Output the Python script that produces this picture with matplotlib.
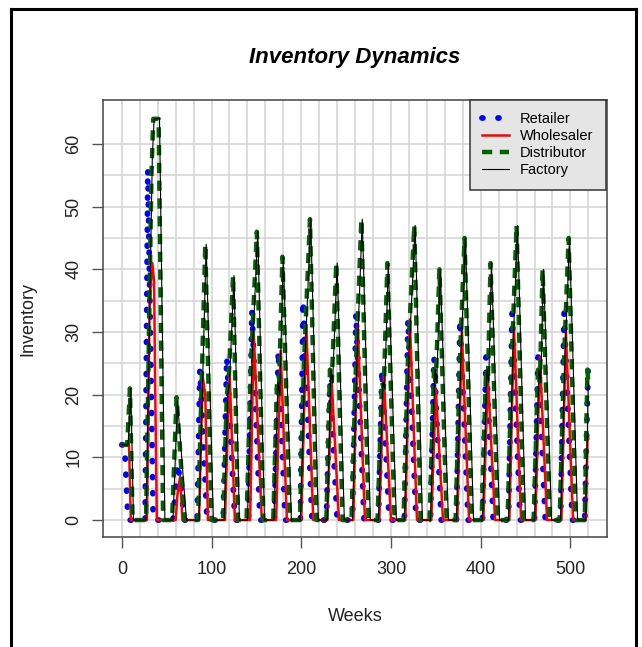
import matplotlib.pyplot as plt
from matplotlib.lines import Line2D
import numpy as np

# weekly inventory, vertices
retailer_weeks = [0, 3, 7, 26, 29, 35, 57, 62.5, 70, 84, 87, 95, 113, 117, 126,
                  141, 145, 154, 170, 174.5, 182, 199, 202, 212, 228, 232, 240,
                  257, 261, 270, 286, 290, 298, 315, 319, 328, 344, 348, 356,
                  373, 377, 386, 402, 406, 414, 431, 435, 444, 460, 464, 472,
                  489, 493, 502, 516, 520]
retailer_inv = [12, 12, 0, 0, 56, 0, 0, 9, 0, 0, 24, 0, 0, 26, 0,
                0, 33.5, 0, 0, 27, 0, 0, 35, 0, 0, 22, 0,
                0, 33, 0, 0, 24, 0, 0, 32, 0, 0, 26, 0,
                0, 32, 0, 0, 26, 0, 0, 33, 0, 0, 26, 0,
                0, 33, 0, 0, 26]

wholesaler_weeks = [0, 8, 10, 28, 31, 34, 36, 37, 39, 60, 62, 65, 67.5,
                    86, 90, 93, 96, 115, 120, 126, 143, 147, 156, 172, 177, 184,
                    200, 205.6, 213.4, 229, 234, 242, 258, 263, 271, 287, 292, 300,
                    316, 321, 329, 345, 350, 358, 374, 379, 387, 403, 408, 416,
                    432, 437, 445, 461, 466, 474, 490, 495, 503, 517, 519, 520]
wholesaler_inv = [12, 12, 0, 0, 35, 41, 38, 23, 0, 0, 4, 7, 0,
                  0, 23, 20, 0, 0, 24, 0, 0, 30, 0, 0, 27, 0,
                  0, 31, 0, 0, 22, 0, 0, 31, 0, 0, 23, 0,
                  0, 32, 0, 0, 21, 0, 0, 30, 0, 0, 23, 0,
                  0, 31, 0, 0, 26, 0, 0, 30, 0, 0, 13, 13]

distributor_weeks = [0, 6, 9, 12, 27, 33, 35, 41, 46, 56, 61, 70,
                     85, 89, 93, 100, 113, 117, 119, 124, 129.5, 139, 144, 150.5, 157.7,
                     168.8, 173, 175, 179, 187.4, 198.5, 203, 209.7, 217,
                     228, 232, 234, 239, 246, 256, 261, 267, 275,
                     285, 290, 292, 296, 304, 314, 319, 326, 333,
                     343, 348, 350, 354, 362, 372, 377, 382, 390,
                     401, 406, 408, 411, 419, 430, 435, 440, 448,
                     459, 464, 466, 469, 477, 488, 493, 498, 506, 516, 519, 520]
distributor_inv = [12, 12, 21, 0, 0, 55, 64, 64, 0, 0, 19.6, 0,
                   0, 22, 44, 0, 0, 20, 22, 39, 0, 0, 25, 46, 0,
                   0, 22, 20, 42, 0, 0, 25, 48, 0,
                   0, 24, 22, 41, 0, 0, 25, 48, 0,
                   0, 22, 21, 41, 0, 0, 26, 47, 0,
                   0, 24, 22, 40, 0, 0, 26, 45, 0,
                   0, 24, 22, 41, 0, 0, 27, 47, 0,
                   0, 24, 22, 40, 0, 0, 26, 45, 0, 0, 24, 22]

factory_weeks = [0, 7, 10, 13, 27, 34, 36, 42, 48, 57, 62, 72,
                 86, 90, 94, 102, 114, 118, 120, 125, 131, 140, 145, 151.5, 159,
                 169.5, 174, 176, 180, 189, 199, 204, 210.5, 219,
                 229, 233, 235, 240, 248, 257, 262, 268, 277,
                 286, 291, 293, 297, 306, 315, 320, 327, 335,
                 344, 349, 351, 355, 364, 373, 378, 383, 392,
                 402, 407, 409, 412, 421, 431, 436, 441, 450,
                 460, 465, 467, 470, 479, 489, 494, 499, 508, 517, 520]
factory_inv = [12, 12, 21, 0, 0, 58, 64, 64, 0, 0, 19, 0,
               0, 22, 44, 0, 0, 20, 22, 39, 0, 0, 25, 46, 0,
               0, 22, 20, 42, 0, 0, 25, 48, 0,
               0, 24, 22, 41, 0, 0, 25, 48, 0,
               0, 22, 21, 41, 0, 0, 26, 47, 0,
               0, 24, 22, 40, 0, 0, 26, 45, 0,
               0, 24, 22, 41, 0, 0, 27, 47, 0,
               0, 24, 22, 40, 0, 0, 26, 45, 0, 0, 22]

plt.rcParams['font.family'] = ['Liberation Sans', 'DejaVu Sans']

fig = plt.figure(figsize=(6.42, 6.47), dpi=100)
ax = fig.add_axes([103 / 642, 110 / 647, 504 / 642, 437 / 647])

ax.plot(retailer_weeks, retailer_inv, color='blue', lw=4.2,
        linestyle=(0, (0.15, 2.6)), dash_capstyle='round', label='Retailer')
ax.plot(wholesaler_weeks, wholesaler_inv, color='red', lw=1.8, label='Wholesaler')
ax.plot(distributor_weeks, distributor_inv, color='#006400', lw=3.2,
        linestyle=(0, (2.3, 1.7)), dash_capstyle='butt', label='Distributor')
ax.plot(factory_weeks, factory_inv, color='black', lw=0.8, label='Factory')

ax.set_xlim(-21, 540.8)
ax.set_ylim(-2.7, 67)
ax.set_xticks(np.arange(0, 501, 100))
ax.set_yticks(np.arange(0, 61, 10))
ax.set_xticks(np.arange(0, 521, 20), minor=True)
ax.set_yticks(np.arange(0, 61, 5), minor=True)
ax.grid(True, which='both', color='#d3d3d3', lw=1.1)
ax.set_axisbelow(True)
ax.tick_params(which='minor', length=0)
ax.tick_params(which='major', direction='out', length=8, width=1, color='#555555',
               labelsize=13, pad=9, labelcolor='#222222')
ax.tick_params(axis='y', labelrotation=90, pad=7)
for lab in ax.get_yticklabels():
    lab.set_va('center')
for sp in ax.spines.values():
    sp.set_color('#444444')
    sp.set_linewidth(1.1)

ax.set_title('Inventory Dynamics', fontsize=16, fontweight='bold', fontstyle='italic', pad=27)
ax.set_xlabel('Weeks', fontsize=13, color='#222222')
ax.set_ylabel('Inventory', fontsize=13, color='#222222')
ax.xaxis.set_label_coords(0.5, -0.181)
ax.xaxis.label.set_va('center')
ax.yaxis.set_label_coords(-0.149, 0.5)
ax.yaxis.label.set_va('center')

leg = ax.legend(loc='upper right', bbox_to_anchor=(0.998, 1.0), borderaxespad=0,
                fontsize=10.5, fancybox=False, framealpha=1, facecolor='#e5e5e5',
                edgecolor='#333333', handlelength=1.8, handletextpad=0.8,
                labelspacing=0.2, borderpad=0.85)
leg.get_frame().set_linewidth(1.1)

# outer frame
fig.add_artist(Line2D([11 / 642, 11 / 642], [0, 1 - 9 / 647], color='black', lw=2.2))
fig.add_artist(Line2D([11 / 642, 636 / 642], [1 - 9 / 647, 1 - 9 / 647], color='black', lw=2.2))
fig.add_artist(Line2D([636 / 642, 636 / 642], [0, 1 - 9 / 647], color='black', lw=2.2))

fig.savefig('out.png', dpi=100)
